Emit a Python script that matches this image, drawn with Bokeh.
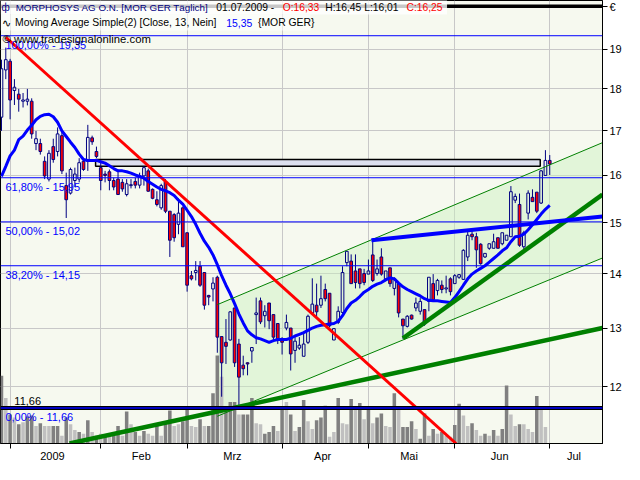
import math
from bokeh.plotting import figure
from bokeh.models import (Range1d, LinearScale, FixedTicker, Label, Span, BoxAnnotation,
                          ColumnDataSource, CustomJSTickFormatter)
from bokeh.embed import file_html
from bokeh.resources import INLINE

# ---------------- data ----------------
bar_index = list(range(-2, 126))          # trading-day index, 0 = 02.01.2009

opens = [17.32, 18.47, 18.69, 17.96, 17.87, 17.70, 17.70, 17.70, 16.71, 16.71,
         16.31, 15.92, 16.64, 16.53, 16.89, 15.78, 15.62, 15.89, 15.92, 16.31,
         16.31, 16.84, 16.53, 16.17, 16.03, 16.08, 15.89, 15.92, 15.85, 15.59,
         15.78, 15.87, 15.79, 15.99, 16.10, 15.70, 15.48, 15.31, 15.87, 15.24,
         15.17, 14.97, 15.31, 14.80, 13.96, 14.02, 14.14, 14.02, 13.59, 13.71,
         13.93, 12.85, 12.75, 12.79, 13.36, 12.72, 12.36, 12.40, 12.60, 13.24,
         13.49, 13.22, 13.45, 13.24, 13.08, 12.78, 13.00, 13.00, 12.61, 12.65,
         12.51, 12.75, 13.27, 13.41, 13.41, 13.70, 13.63, 12.79, 13.10, 13.28,
         14.21, 14.24, 14.05, 14.09, 14.00, 13.99, 14.36, 14.00, 14.32, 13.90,
         14.11, 13.72, 13.81, 13.16, 13.03, 13.23, 13.36, 13.30, 13.33, 13.48,
         13.81, 13.68, 13.78, 13.71, 13.90, 13.81, 13.93, 13.89, 14.32, 14.77,
         14.72, 14.57, 14.32, 14.49, 14.49, 14.70, 14.58, 14.65, 14.72, 15.47,
         15.38, 14.52, 15.20, 15.53, 15.64, 15.41, 16.00, 16.33]
highs = [18.73, 19.04, 18.75, 18.24, 18.00, 17.90, 18.00, 17.77, 17.00, 16.82,
         16.42, 16.56, 16.82, 17.08, 17.00, 16.06, 16.17, 16.17, 16.38, 16.35,
         17.14, 16.89, 16.64, 16.28, 16.10, 16.13, 15.95, 16.13, 15.92, 15.92,
         15.92, 15.95, 16.06, 16.20, 16.15, 15.72, 15.66, 15.82, 15.92, 15.24,
         15.20, 15.51, 15.34, 14.80, 14.05, 14.24, 14.24, 14.02, 13.60, 13.93,
         13.96, 12.85, 13.16, 13.30, 13.36, 12.81, 12.52, 12.41, 12.66, 13.55,
         13.55, 13.41, 13.45, 13.24, 13.08, 12.84, 13.24, 13.00, 12.84, 12.84,
         12.90, 13.24, 13.91, 13.81, 13.96, 13.81, 13.63, 12.99, 13.39, 14.14,
         14.43, 14.37, 14.37, 14.09, 14.09, 14.27, 14.65, 14.27, 14.49, 14.05,
         14.11, 13.93, 13.81, 13.16, 13.23, 13.24, 13.55, 13.54, 13.33, 13.93,
         13.99, 13.90, 13.87, 13.96, 13.93, 13.99, 13.99, 14.47, 14.84, 14.84,
         14.80, 14.59, 14.39, 14.58, 14.78, 14.70, 14.80, 14.75, 15.77, 15.61,
         15.61, 14.84, 15.68, 15.70, 15.64, 16.12, 16.56, 16.45]
lows = [17.00, 18.24, 17.27, 17.61, 17.45, 17.55, 17.60, 16.82, 16.56, 16.46,
        15.92, 15.87, 16.28, 16.42, 16.03, 15.10, 15.59, 15.75, 15.85, 16.10,
        16.10, 16.68, 16.38, 15.68, 15.85, 15.68, 15.68, 15.59, 15.65, 15.55,
        15.72, 15.72, 15.72, 15.78, 15.65, 15.49, 15.34, 15.27, 15.20, 14.32,
        14.62, 14.77, 14.52, 13.66, 13.87, 13.87, 13.75, 13.33, 13.41, 13.48,
        12.57, 11.84, 12.38, 12.78, 12.33, 11.65, 12.19, 12.19, 12.40, 12.72,
        13.07, 13.01, 12.98, 12.78, 12.72, 12.54, 12.96, 12.27, 12.40, 12.62,
        12.51, 12.72, 13.24, 13.19, 13.36, 13.48, 13.01, 12.79, 13.07, 13.24,
        14.14, 13.81, 13.72, 13.72, 13.78, 13.99, 13.84, 13.96, 13.96, 13.90,
        13.75, 13.59, 13.19, 12.81, 13.01, 13.15, 13.30, 13.24, 13.04, 13.30,
        13.48, 13.59, 13.63, 13.63, 13.59, 13.81, 13.90, 13.88, 14.24, 14.65,
        14.11, 14.17, 14.30, 14.46, 14.49, 14.49, 14.55, 14.65, 14.72, 15.41,
        14.52, 14.45, 15.07, 15.44, 15.20, 15.39, 16.00, 16.01]
closes = [18.50, 18.73, 17.73, 18.04, 17.75, 17.73, 17.75, 16.93, 16.82, 16.53,
          15.99, 16.49, 16.35, 16.93, 16.10, 15.48, 16.13, 16.03, 16.28, 16.13,
          16.85, 16.75, 16.42, 15.89, 16.00, 15.89, 15.75, 15.59, 15.71, 15.82,
          15.80, 15.79, 15.99, 16.17, 15.66, 15.51, 15.38, 15.78, 15.24, 14.65,
          14.70, 15.20, 14.52, 13.78, 13.90, 14.06, 13.78, 13.41, 13.56, 13.82,
          12.84, 12.40, 12.68, 13.29, 12.40, 12.16, 12.30, 12.38, 12.66, 13.27,
          13.11, 13.30, 13.13, 12.84, 12.81, 12.75, 13.10, 12.55, 12.77, 12.70,
          12.72, 13.21, 13.43, 13.29, 13.53, 13.53, 13.04, 12.99, 13.30, 14.02,
          14.43, 13.81, 13.83, 13.81, 13.83, 14.05, 13.87, 14.09, 13.99, 14.05,
          13.81, 13.90, 13.27, 13.04, 13.21, 13.16, 13.45, 13.48, 13.07, 13.93,
          13.51, 13.87, 13.70, 13.73, 13.66, 13.96, 13.98, 14.45, 14.75, 14.72,
          14.46, 14.19, 14.39, 14.58, 14.62, 14.49, 14.80, 14.75, 15.65, 15.55,
          14.55, 14.80, 15.62, 15.44, 15.24, 16.10, 16.33, 16.25]

sma13 = [15.98, 16.20, 16.43, 16.56, 16.80, 16.88, 17.02, 17.13, 17.26, 17.34,
         17.38, 17.39, 17.33, 17.20, 17.00, 16.87, 16.74, 16.62, 16.47, 16.35,
         16.33, 16.33, 16.33, 16.30, 16.27, 16.21, 16.15, 16.10, 16.10, 16.08,
         16.05, 16.01, 15.98, 15.94, 15.87, 15.81, 15.75, 15.70, 15.67, 15.63,
         15.57, 15.47, 15.39, 15.26, 15.13, 14.97, 14.79, 14.63, 14.51, 14.36,
         14.17, 13.96, 13.78, 13.62, 13.44, 13.25, 13.09, 12.95, 12.88, 12.83,
         12.81, 12.78, 12.75, 12.78, 12.80, 12.80, 12.80, 12.82, 12.86, 12.89,
         12.92, 12.96, 13.00, 13.03, 13.05, 13.06, 13.07, 13.08, 13.12, 13.22,
         13.35, 13.45, 13.50, 13.57, 13.65, 13.70, 13.76, 13.80, 13.83, 13.88,
         13.92, 13.90, 13.82, 13.75, 13.70, 13.66, 13.62, 13.58, 13.53, 13.50,
         13.49, 13.49, 13.48, 13.47, 13.46, 13.55, 13.66, 13.78, 13.90, 13.99,
         14.05, 14.10, 14.15, 14.22, 14.29, 14.36, 14.44, 14.50, 14.62, 14.72,
         14.73, 14.77, 14.86, 14.96, 15.07, 15.18, 15.28, 15.36]

volume_k = [70, 47, 30, 27, 20, 22, 28, 29, 18, 21,
            18, 18, 18, 18, 8, 27, 20, 14, 12, 10,
            24, 12, 8, 10, 8, 10, 8, 18, 8, 33,
            20, 12, 8, 13, 10, 8, 20, 8, 23, 34,
            18, 20, 23, 37, 18, 17, 25, 18, 18, 52,
            91, 69, 38, 43, 43, 30, 30, 30, 47, 21,
            20, 10, 12, 18, 13, 37, 43, 30, 13, 17,
            45, 23, 15, 24, 27, 39, 7, 12, 47, 21,
            20, 46, 35, 42, 25, 37, 21, 27, 31, 18,
            17, 52, 37, 17, 17, 23, 15, 5, 31, 8,
            15, 10, 12, 8, 7, 19, 41, 29, 18, 21,
            14, 8, 10, 8, 14, 8, 15, 60, 30, 18,
            20, 20, 15, 12, 49, 36, 17, 0]
volume_up = [1, 0, 1, 0, 1, 0, 1, 1, 0, 1,
             0, 0, 1, 1, 0, 1, 0, 0, 1, 0,
             1, 0, 1, 0, 1, 0, 1, 1, 0, 1,
             0, 1, 0, 1, 0, 0, 1, 0, 1, 1,
             0, 0, 1, 1, 0, 0, 1, 0, 1, 1,
             1, 0, 1, 1, 1, 0, 1, 1, 1, 0,
             0, 1, 1, 1, 0, 1, 0, 1, 0, 1,
             1, 0, 0, 1, 1, 1, 0, 0, 1, 0,
             0, 1, 0, 1, 0, 1, 0, 1, 1, 0,
             0, 1, 0, 1, 1, 1, 0, 1, 1, 0,
             1, 0, 1, 0, 0, 1, 1, 0, 0, 1,
             0, 0, 1, 0, 1, 0, 1, 1, 0, 0,
             1, 0, 0, 0, 1, 0, 0, 0]

month_start_idx = [0, 21, 41, 63, 83, 103, 125]
month_label_idx = [9.8, 30.4, 51.5, 72.4, 92.4, 113.4, 130.6]
month_labels = ["2009", "Feb", "Mrz", "Apr", "Mai", "Jun", "Jul"]
price_ticks = [12, 13, 14, 15, 16, 17, 18, 19]
currency = "€"

fib_levels = [19.35, 15.95, 15.02, 14.15, 11.66]
fib_texts = ["100,00% - 19,35", "61,80% - 15,95", "50,00% - 15,02", "38,20% - 14,15", "0,00% - 11,66"]

# drawing tools: (bar index, price) anchor points
red_trend_x, red_trend_y = [-1.0, 103.3], [19.31, 11.11]
chan_x = [48.0, 137.22]
chan_upper_y = [13.42, 16.73]
chan_lower_y = [11.53, 14.30]
support_long_x, support_long_y = [13.76, 137.22], [11.11, 13.00]
support_short_x, support_short_y = [91.0, 137.22], [12.82, 15.59]
resist_x, resist_y = [83.7, 137.22], [14.65, 15.13]
zone_x = [19.8, 122.8]
zone_y = [16.20, 16.35]
header_rule_level = 20.14

# ---------------- figure ----------------
X0, X1 = -2.225, 137.22
Y_BOT, Y_TOP = 11.11, 20.30
BG = "#F6F9EF"
FONT = "Liberation Sans"

def ref_x(px):
    return X0 + (px - 2.0) * (X1 - X0) / 608.0

def ref_y(py):
    lt, lb = math.log(Y_TOP), math.log(Y_BOT)
    return math.exp(lt - (py - 2.0) / 458.0 * (lt - lb))

p = figure(width=624, height=464, x_range=Range1d(X0, X1), y_range=Range1d(Y_BOT, Y_TOP),
           y_axis_type="log", y_axis_location="right", output_backend="svg",
           toolbar_location=None, min_border_left=0, min_border_top=0,
           min_border_right=0, min_border_bottom=0,
           background_fill_color=BG, border_fill_color="white")
p.extra_y_ranges = {"vol": Range1d(0, 458)}
p.extra_y_scales = {"vol": LinearScale()}
p.outline_line_color = "black"
p.outline_line_width = 1

# grid
p.xgrid.ticker = FixedTicker(ticks=month_start_idx)
p.ygrid.ticker = FixedTicker(ticks=price_ticks)
p.grid.grid_line_color = "#C8C8C8"
p.grid.grid_line_width = 1

# axes
p.yaxis.ticker = FixedTicker(ticks=price_ticks + [header_rule_level])
p.yaxis.formatter = CustomJSTickFormatter(args=dict(cur=currency),
                                          code="return tick > 19.9 ? cur : tick.toFixed(0);")
p.yaxis.major_tick_out = 5
p.yaxis.major_tick_in = 0
p.yaxis.minor_tick_out = 0
p.yaxis.minor_tick_in = 0
p.yaxis.major_label_standoff = 2
p.xaxis.ticker = FixedTicker(ticks=month_label_idx, minor_ticks=month_start_idx)
p.xaxis.formatter = CustomJSTickFormatter(args=dict(names=month_labels), code="return names[index];")
p.xaxis.major_tick_out = 0
p.xaxis.major_tick_in = 0
p.xaxis.minor_tick_out = 5
p.xaxis.minor_tick_in = 0
p.xaxis.major_label_standoff = 1
for ax in (p.xaxis, p.yaxis):
    ax.axis_line_color = "black"
    ax.major_tick_line_color = "black"
    ax.minor_tick_line_color = "black"
    ax.major_label_text_font = FONT
    ax.major_label_text_font_size = "11px"
    ax.major_label_text_color = "black"

# channel fill
p.patch(chan_x + chan_x[::-1], chan_upper_y + chan_lower_y[::-1],
        fill_color="#C9F0BE", fill_alpha=0.45, line_color=None)

# volume
vsrc = ColumnDataSource(dict(x=bar_index, top=volume_k,
                             color=["#808080" if u else "#C0C0C0" for u in volume_up]))
p.vbar(x="x", top="top", bottom=0, width=0.82, source=vsrc, fill_color="color",
       line_color=None, y_range_name="vol")

# zone
p.quad(left=[zone_x[0]], right=[zone_x[1]], bottom=[zone_y[0]], top=[zone_y[1]],
       fill_color="#DCDFEE", line_color="black", line_width=1.5)

# candles
btop = [max(o, c) for o, c in zip(opens, closes)]
bbot = [min(o, c) for o, c in zip(opens, closes)]
p.segment(x0=bar_index, y0=highs, x1=bar_index, y1=btop, line_color="#000080", line_width=1)
p.segment(x0=bar_index, y0=bbot, x1=bar_index, y1=lows, line_color="#000080", line_width=1)
up = [i for i in range(len(bar_index)) if closes[i] >= opens[i]]
dn = [i for i in range(len(bar_index)) if closes[i] < opens[i]]
p.vbar(x=[bar_index[i] for i in up], top=[btop[i] for i in up], bottom=[bbot[i] for i in up],
       width=0.62, fill_color=None, line_color="#000080", line_width=1)
p.vbar(x=[bar_index[i] for i in dn], top=[btop[i] for i in dn], bottom=[bbot[i] for i in dn],
       width=0.62, fill_color="#FF0000", line_color="#000080", line_width=1)

# moving average
p.line(bar_index, sma13, line_color="#0000FF", line_width=3)

# channel borders and trend lines
p.line(chan_x, chan_upper_y, line_color="#008000", line_width=1)
p.line(chan_x, chan_lower_y, line_color="#008000", line_width=1)
p.line(support_long_x, support_long_y, line_color="#008000", line_width=4.5)
p.line(support_short_x, support_short_y, line_color="#008000", line_width=4.5)
p.line(resist_x, resist_y, line_color="#0000FF", line_width=4)
p.line(red_trend_x, red_trend_y, line_color="#FF0000", line_width=3)

# fibonacci levels
for lvl in fib_levels[:-1]:
    p.add_layout(Span(location=lvl, dimension="width", line_color="#0000FF", line_width=1))
p.add_layout(Span(location=fib_levels[-1], dimension="width", line_color="black", line_width=4))
p.add_layout(Span(location=fib_levels[-1], dimension="width", line_color="#0000FF", line_width=1.5))
p.add_layout(Span(location=header_rule_level, dimension="width", line_color="black", line_width=3.5))

for lvl, txt in zip(fib_levels, fib_texts):
    p.add_layout(Label(x=ref_x(7), y=lvl, y_offset=-9, text=txt, text_color="#0000FF",
                       text_font=FONT, text_font_size="11px", text_baseline="middle"))
p.add_layout(Label(x=ref_x(16), y=fib_levels[-1], y_offset=7, text="11,66", text_color="black",
                   text_font=FONT, text_font_size="11px", text_baseline="middle"))

# header
p.add_layout(BoxAnnotation(left=X0, right=ref_x(453), top=ref_y(0), bottom=ref_y(16.5),
                           fill_color="white", fill_alpha=0.78, line_color=None))
p.add_layout(BoxAnnotation(left=X0, right=ref_x(315), top=ref_y(16.5), bottom=ref_y(33),
                           fill_color="white", fill_alpha=0.6, line_color=None))

def hdr(px, py, txt, color, size="10px"):
    p.add_layout(Label(x=ref_x(px), y=ref_y(py), text=txt, text_color=color, text_font=FONT,
                       text_font_size=size, text_baseline="middle", text_align="left"))

hdr(3, 9.5, "ф", "#000080")
hdr(17.3, 9.5, "MORPHOSYS AG O.N. [MOR GER  Täglich]", "#000080", "9.8px")
hdr(220, 9.5, "01.07.2009 -", "black", "10.3px")
hdr(287, 9.5, "O:16,33", "#FF0000", "10.3px")
hdr(330, 9.5, "H:16,45 L:16,01", "black", "10.3px")
hdr(412, 9.5, "C:16,25", "#FF0000", "10.3px")
hdr(4, 25, "∿", "black", "10.5px")
hdr(16.7, 25, "Moving Average Simple(2) [Close, 13, Nein]", "black", "10.4px")
hdr(230, 25, "15,35", "#0000FF", "10.4px")
hdr(262, 25, "{MOR GER}", "black", "10.4px")
hdr(4, 41.5, "© www.tradesignalonline.com", "black", "11.3px")

open("out.html", "w").write(file_html(p, INLINE))
